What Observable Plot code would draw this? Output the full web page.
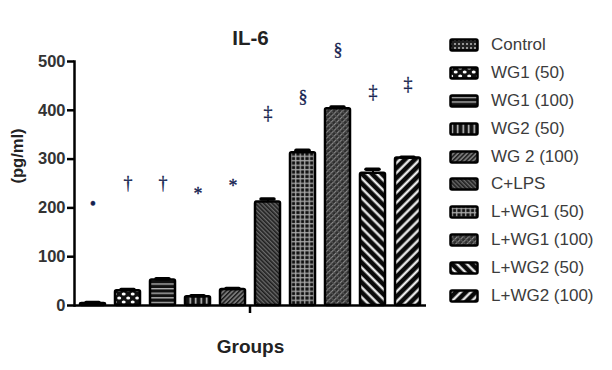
<!DOCTYPE html>
<html>
<head>
<meta charset="utf-8">
<script src="https://cdn.jsdelivr.net/npm/d3@7"></script>
<script src="https://cdn.jsdelivr.net/npm/@observablehq/plot@0.6"></script>
<style>
  html, body { margin: 0; padding: 0; background: #fff; }
  #wrap { position: relative; width: 612px; height: 370px; overflow: hidden; font-family: "Liberation Sans", Arial, sans-serif; }
  #legend { position: absolute; left: 449px; top: 31px; }
  .row { display: flex; align-items: center; height: 27.9px; }
  .row svg { display: block; }
  .row span { margin-left: 12px; font-size: 17px; color: #3c3c3c; white-space: nowrap; }
</style>
</head>
<body>
<svg width="0" height="0" style="position:absolute">
  <defs>
    <pattern id="p0" width="4" height="4" patternUnits="userSpaceOnUse">
      <rect width="4" height="4" fill="#222"/><circle cx="2" cy="2" r="1" fill="#bbb"/>
    </pattern>
    <pattern id="p1" width="9" height="8" patternUnits="userSpaceOnUse">
      <rect width="9" height="8" fill="#111"/>
      <ellipse cx="2.2" cy="2" rx="2" ry="1.6" fill="#fff"/>
      <ellipse cx="6.7" cy="6" rx="2" ry="1.6" fill="#fff"/>
    </pattern>
    <pattern id="p2" width="4" height="4.6" patternUnits="userSpaceOnUse">
      <rect width="4" height="4.6" fill="#111"/><rect y="2.8" width="4" height="1.3" fill="#bbb"/>
    </pattern>
    <pattern id="p3" width="5.5" height="4" patternUnits="userSpaceOnUse">
      <rect width="5.5" height="4" fill="#111"/><rect x="2.5" width="1.5" height="4" fill="#ccc"/>
    </pattern>
    <pattern id="p4" width="3.2" height="4" patternUnits="userSpaceOnUse" patternTransform="rotate(45)">
      <rect width="3.2" height="4" fill="#777"/><rect width="1.4" height="4" fill="#1a1a1a"/>
    </pattern>
    <pattern id="p5" width="3" height="4" patternUnits="userSpaceOnUse" patternTransform="rotate(-45)">
      <rect width="3" height="4" fill="#6a6a6a"/><rect width="1.6" height="4" fill="#1e1e1e"/>
    </pattern>
    <pattern id="p6" width="4.5" height="4.5" patternUnits="userSpaceOnUse">
      <rect width="4.5" height="4.5" fill="#111"/>
      <rect y="2.6" width="4.5" height="1.3" fill="#aaa"/>
      <rect x="2.6" width="1.3" height="4.5" fill="#aaa"/>
    </pattern>
    <pattern id="p7" width="4" height="4" patternUnits="userSpaceOnUse" patternTransform="rotate(45)">
      <rect width="4" height="4" fill="#2e2e2e"/>
      <rect width="1.2" height="4" fill="#8a8a8a"/>
      <rect width="4" height="1" fill="#555"/>
    </pattern>
    <pattern id="p8" width="7" height="4" patternUnits="userSpaceOnUse" patternTransform="rotate(-45)">
      <rect width="7" height="4" fill="#0a0a0a"/><rect x="2.5" width="2.2" height="4" fill="#fff"/>
    </pattern>
    <pattern id="p9" width="7" height="4" patternUnits="userSpaceOnUse" patternTransform="rotate(45)">
      <rect width="7" height="4" fill="#0a0a0a"/><rect x="2.5" width="2.2" height="4" fill="#fff"/>
    </pattern>
  </defs>
</svg>
<div id="wrap"><div id="chart"></div><div id="legend"></div></div>
<script>
// ---- data ----
const groups = ["Control", "WG1 (50)", "WG1 (100)", "WG2 (50)", "WG 2 (100)", "C+LPS", "L+WG1 (50)", "L+WG1 (100)", "L+WG2 (50)", "L+WG2 (100)"];
const means = [4, 30, 52, 18, 33, 212, 313, 403, 271, 302];
const errors = [2, 3, 3, 2, 2, 6, 5, 4, 8, 2];
const sigSymbols = ["\u2022", "\u2020", "\u2020", "*", "*", "\u2021", "\u00a7", "\u00a7", "\u2021", "\u2021"];
const sigValues = [207, 250, 250, 227, 245, 393, 426, 524, 436, 453];
const yTicks = [0, 100, 200, 300, 400, 500];
const title = "IL-6";
const yLabel = "(pg/ml)";
const xLabel = "Groups";

// ---- styles (kept apart from the data) ----
const patternFills = groups.map((g, i) => `url(#p${i})`);

const rows = groups.map((g, i) => ({group: g, mean: means[i], err: errors[i], sym: sigSymbols[i], sigY: sigValues[i]}));

const centerTick = (index, scales, values, dims) => {
  const x = (dims.marginLeft + dims.width - dims.marginRight) / 2;
  const y = dims.height - dims.marginBottom;
  const line = document.createElementNS("http://www.w3.org/2000/svg", "line");
  line.setAttribute("x1", x); line.setAttribute("x2", x);
  line.setAttribute("y1", y); line.setAttribute("y2", y + 8);
  line.setAttribute("stroke", "black"); line.setAttribute("stroke-width", 2.5);
  return line;
};

const chart = Plot.plot({
  width: 612,
  height: 370,
  marginLeft: 74,
  marginRight: 186,
  marginTop: 61,
  marginBottom: 65,
  style: {fontFamily: "'Liberation Sans', Arial, sans-serif", background: "white", overflow: "visible"},
  x: {type: "band", domain: groups, paddingInner: 0.29, paddingOuter: 0.14, axis: null},
  y: {domain: [0, 500], axis: null},
  color: {type: "ordinal", domain: groups, range: patternFills},
  marks: [
    Plot.ruleX(rows, {x: "group", y1: "mean", y2: d => d.mean + d.err, stroke: "black", strokeWidth: 2}),
    Plot.barY(rows, {x: "group", y: "mean", fill: "group", stroke: "black", strokeWidth: 2.5, rx: 1.5}),
    Plot.tickY(rows, {x: "group", y: d => d.mean + d.err, stroke: "black", strokeWidth: 3.5, strokeLinecap: "round", insetLeft: 6, insetRight: 6}),
    Plot.text(rows, {x: "group", y: "sigY", text: "sym", fontFamily: "'Liberation Serif', 'DejaVu Serif', serif", fontSize: 18, fill: "#14214f", stroke: "#14214f", strokeWidth: 0.3, lineAnchor: "middle"}),
    Plot.axisY({ticks: yTicks, tickSize: 7, tickPadding: 2, label: null, fontSize: 16.5, fontWeight: "bold", fill: "#333", stroke: "black", strokeWidth: 2.5}),
    Plot.frame({anchor: "left", stroke: "black", strokeWidth: 2.5}),
    Plot.ruleY([0], {stroke: "black", strokeWidth: 2.5}),
    centerTick,
    Plot.text([title], {frameAnchor: "top", dx: 0, dy: -31, fontSize: 20.5, fontWeight: "bold", fill: "#222"}),
    Plot.text([yLabel], {frameAnchor: "left", rotate: -90, dx: -57, fontSize: 16.5, fontWeight: "bold", fill: "#222"}),
    Plot.text([xLabel], {frameAnchor: "bottom", dy: 47, fontSize: 19, fontWeight: "bold", fill: "#222"})
  ]
});
document.getElementById("chart").appendChild(chart);

// ---- legend ----
const legend = document.getElementById("legend");
groups.forEach((g, i) => {
  const row = document.createElement("div");
  row.className = "row";
  row.innerHTML = `<svg width="30" height="14"><rect x="1.5" y="1.5" width="27" height="11" rx="1.5" fill="${patternFills[i]}" stroke="black" stroke-width="2.5"/></svg><span>${g}</span>`;
  legend.appendChild(row);
});
</script>
</body>
</html>
